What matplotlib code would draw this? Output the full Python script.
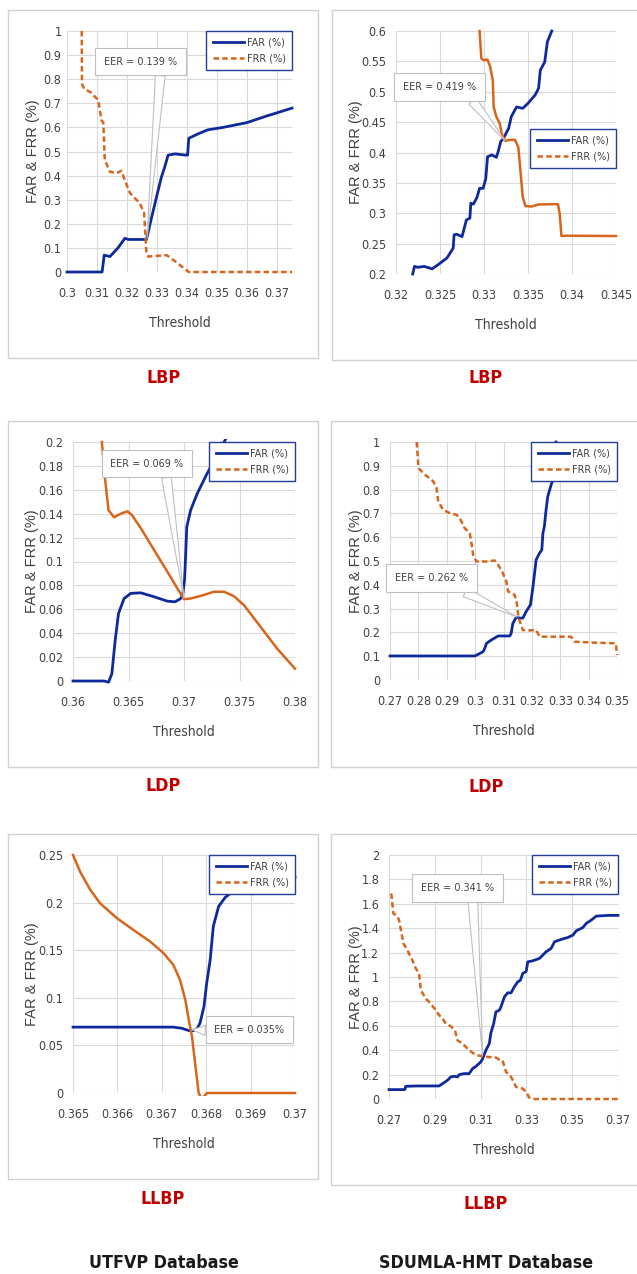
import numpy as np
import matplotlib
matplotlib.use('Agg')
import matplotlib.pyplot as plt
from matplotlib.lines import Line2D
from matplotlib.patches import Rectangle
from matplotlib.transforms import Bbox, TransformedBbox
from matplotlib import font_manager

# ---- data ----
# UTFVP - LBP
utfvp_lbp_far_x = [0.300, 0.3117, 0.3124, 0.3143, 0.317, 0.3193, 0.3205, 0.3265, 0.328, 0.3304, 0.3315,
                   0.3326, 0.3337, 0.336, 0.3396, 0.3402, 0.3406, 0.344, 0.347, 0.352, 0.360, 0.366, 0.375]
utfvp_lbp_far_y = [0, 0, 0.07, 0.064, 0.10, 0.14, 0.135, 0.135, 0.216, 0.34, 0.395,
                   0.437, 0.485, 0.49, 0.485, 0.485, 0.555, 0.575, 0.59, 0.60, 0.62, 0.645, 0.68]
utfvp_lbp_frr_x = [0.3049, 0.305, 0.3057, 0.3076, 0.3104, 0.3115, 0.3121, 0.3126, 0.3143, 0.3165, 0.3181,
                   0.3193, 0.321, 0.3243, 0.3257, 0.3265, 0.3271, 0.3332, 0.3365, 0.3399, 0.3405, 0.375]
utfvp_lbp_frr_y = [1.0, 0.78, 0.76, 0.748, 0.714, 0.63, 0.62, 0.465, 0.416, 0.41, 0.42,
                   0.38, 0.327, 0.285, 0.244, 0.077, 0.064, 0.07, 0.04, 0.007, 0.0, 0.0]

# SDUMLA - LBP
sdumla_lbp_far_x = [0.3219, 0.3221, 0.3225, 0.3232, 0.3241, 0.3248, 0.3258, 0.3265, 0.3266, 0.3269, 0.3275,
                    0.3278, 0.328, 0.3284, 0.3285, 0.3288, 0.3292, 0.3295, 0.3299, 0.3302, 0.3304, 0.3309,
                    0.3314, 0.3316, 0.3319, 0.3322, 0.3328, 0.3331, 0.3337, 0.3344, 0.335, 0.3358, 0.3362,
                    0.3364, 0.3369, 0.3372, 0.3377]
sdumla_lbp_far_y = [0.2, 0.2125, 0.211, 0.2125, 0.2085, 0.2155, 0.2265, 0.2425, 0.2645, 0.2655, 0.2615,
                    0.278, 0.289, 0.292, 0.3165, 0.315, 0.326, 0.341, 0.341, 0.357, 0.393, 0.396,
                    0.392, 0.401, 0.418, 0.423, 0.4397, 0.459, 0.475, 0.4727, 0.481, 0.4945, 0.5055,
                    0.5355, 0.549, 0.582, 0.6]
sdumla_lbp_frr_x = [0.3295, 0.3297, 0.33, 0.3304, 0.3307, 0.331, 0.3311, 0.3314, 0.3318, 0.332, 0.3324,
                    0.3328, 0.3335, 0.3339, 0.3341, 0.3344, 0.3347, 0.3354, 0.3362, 0.3384, 0.3386, 0.3388,
                    0.3394, 0.345]
sdumla_lbp_frr_y = [0.6, 0.5545, 0.552, 0.553, 0.541, 0.519, 0.475, 0.459, 0.4475, 0.4315, 0.419,
                    0.4205, 0.421, 0.409, 0.3765, 0.327, 0.312, 0.311, 0.3145, 0.315, 0.2995, 0.2625,
                    0.263, 0.2625]

# UTFVP - LDP
utfvp_ldp_far_x = [0.36, 0.3628, 0.3632, 0.3635, 0.3638, 0.3641, 0.3646, 0.3652, 0.3661, 0.3673, 0.3685,
                   0.3692, 0.3697, 0.3699, 0.37005, 0.37013, 0.37025, 0.3706, 0.3712, 0.3721, 0.3727, 0.3739]
utfvp_ldp_far_y = [0, 0, -0.001, 0.006, 0.034, 0.0565, 0.069, 0.0733, 0.0738, 0.0705, 0.0668,
                   0.0663, 0.069, 0.0733, 0.0845, 0.101, 0.129, 0.143, 0.157, 0.174, 0.184, 0.205]
utfvp_ldp_frr_x = [0.3626, 0.3629, 0.3632, 0.3637, 0.3643, 0.3649, 0.3653, 0.3661, 0.3673, 0.3685, 0.3694,
                   0.37, 0.3706, 0.3715, 0.3727, 0.3736, 0.3745, 0.3754, 0.3769, 0.3784, 0.38]
utfvp_ldp_frr_y = [0.2, 0.168, 0.143, 0.137, 0.14, 0.142, 0.139, 0.128, 0.1097, 0.0915, 0.0775,
                   0.0685, 0.069, 0.0712, 0.0747, 0.0747, 0.071, 0.0635, 0.0453, 0.027, 0.0103]

# SDUMLA - LDP
sdumla_ldp_far_x = [0.27, 0.2999, 0.3011, 0.3028, 0.3034, 0.304, 0.3057, 0.3081, 0.3122, 0.3127, 0.3133,
                    0.3145, 0.3157, 0.3168, 0.318, 0.3195, 0.3204, 0.3215, 0.3227, 0.3235, 0.3239, 0.3244,
                    0.325, 0.3256, 0.3268, 0.3274, 0.3285]
sdumla_ldp_far_y = [0.101, 0.101, 0.108, 0.119, 0.133, 0.154, 0.168, 0.185, 0.185, 0.196, 0.238,
                    0.264, 0.26, 0.26, 0.288, 0.316, 0.393, 0.505, 0.533, 0.547, 0.617, 0.645,
                    0.715, 0.771, 0.82, 0.841, 1.0]
sdumla_ldp_frr_x = [0.2794, 0.28, 0.2805, 0.2823, 0.2852, 0.2864, 0.287, 0.2887, 0.2911, 0.2934, 0.2946,
                    0.2963, 0.2981, 0.2989, 0.2993, 0.3004, 0.304, 0.3069, 0.3081, 0.3095, 0.311, 0.3116,
                    0.3127, 0.3139, 0.3147, 0.3151, 0.3156, 0.3168, 0.3186, 0.3215, 0.3227, 0.3338, 0.335,
                    0.342, 0.3496, 0.35]
sdumla_ldp_frr_y = [1.0, 0.898, 0.884, 0.863, 0.835, 0.807, 0.751, 0.715, 0.701, 0.694, 0.68,
                    0.638, 0.617, 0.561, 0.526, 0.498, 0.498, 0.502, 0.484, 0.456, 0.414, 0.372,
                    0.365, 0.358, 0.323, 0.281, 0.252, 0.21, 0.208, 0.21, 0.182, 0.182, 0.161,
                    0.157, 0.154, 0.105]

# UTFVP - LLBP
utfvp_llbp_far_x = [0.365, 0.36726, 0.36745, 0.3676, 0.36771, 0.3678, 0.36786, 0.36795, 0.36801, 0.36809,
                    0.36816, 0.36828, 0.36843, 0.36861, 0.3693, 0.3700]
utfvp_llbp_far_y = [0.0692, 0.0692, 0.068, 0.0657, 0.0654, 0.068, 0.0734, 0.0909, 0.115, 0.14,
                    0.175, 0.196, 0.2056, 0.212, 0.218, 0.227]
utfvp_llbp_frr_x = [0.365, 0.36516, 0.36539, 0.36561, 0.36599, 0.36636, 0.36674, 0.36704, 0.36726, 0.36741,
                    0.36753, 0.36762, 0.36768, 0.36775, 0.36783, 0.3679, 0.36802, 0.37]
utfvp_llbp_frr_y = [0.25, 0.2325, 0.2133, 0.1993, 0.1836, 0.1713, 0.159, 0.1469, 0.1346, 0.1189,
                    0.0979, 0.0734, 0.0594, 0.0315, 0.0, -0.006, 0.0, 0.0]

# SDUMLA - LLBP
sdumla_llbp_far_x = [0.27, 0.2769, 0.2773, 0.2824, 0.2919, 0.2934, 0.2955, 0.297, 0.2985, 0.2999, 0.3007,
                     0.3028, 0.305, 0.3065, 0.308, 0.3101, 0.3109, 0.3123, 0.3138, 0.3145, 0.3157, 0.3167,
                     0.3182, 0.3189, 0.3204, 0.3218, 0.3233, 0.3247, 0.3262, 0.3274, 0.3284, 0.3299, 0.3306,
                     0.3328, 0.3357, 0.3386, 0.3408, 0.3423, 0.3452, 0.3481, 0.3503, 0.3518, 0.3547, 0.3561,
                     0.3583, 0.3605, 0.3656, 0.37]
sdumla_llbp_far_y = [0.077, 0.077, 0.104, 0.107, 0.107, 0.126, 0.153, 0.181, 0.186, 0.181, 0.2,
                     0.208, 0.208, 0.249, 0.268, 0.304, 0.331, 0.399, 0.454, 0.542, 0.618, 0.714,
                     0.728, 0.755, 0.837, 0.87, 0.87, 0.919, 0.96, 0.974, 1.029, 1.045, 1.124,
                     1.133, 1.152, 1.207, 1.234, 1.289, 1.308, 1.324, 1.343, 1.379, 1.406, 1.439,
                     1.466, 1.499, 1.505, 1.505]
sdumla_llbp_frr_x = [0.271, 0.2719, 0.2736, 0.2744, 0.2763, 0.278, 0.2802, 0.2817, 0.2831, 0.2839, 0.2861,
                     0.2882, 0.2904, 0.2919, 0.2934, 0.2948, 0.297, 0.2988, 0.2999, 0.3021, 0.3043, 0.3065,
                     0.3087, 0.3109, 0.3131, 0.3167, 0.3182, 0.3196, 0.3211, 0.3233, 0.3255, 0.3284, 0.3299,
                     0.3313, 0.3328, 0.37]
sdumla_llbp_frr_y = [1.685, 1.521, 1.499, 1.466, 1.275, 1.22, 1.138, 1.07, 1.029, 0.892, 0.823,
                     0.782, 0.728, 0.687, 0.659, 0.618, 0.596, 0.564, 0.481, 0.454, 0.413, 0.378,
                     0.358, 0.35, 0.345, 0.339, 0.323, 0.317, 0.222, 0.181, 0.099, 0.085, 0.057,
                     0.011, 0.0, 0.0]

eer_labels = ['EER = 0.139 %', 'EER = 0.419 %', 'EER = 0.069 %', 'EER = 0.262 %', 'EER = 0.035%', 'EER = 0.341 %']
method_labels = ['LBP', 'LBP', 'LDP', 'LDP', 'LLBP', 'LLBP']
database_labels = ['UTFVP Database', 'SDUMLA-HMT Database']

# ---- style ----
fl = font_manager.fontManager.ttflist
names = {f.name for f in fl}
if 'Liberation Sans Narrow' in names:
    NARROW = dict(family='Liberation Sans Narrow')
    NSCALE = 1.0
elif any(f.name == 'DejaVu Sans' and f.stretch == 'condensed' for f in fl):
    NARROW = dict(family='DejaVu Sans', stretch='condensed')
    NSCALE = 0.95
else:
    NARROW = dict(family='Liberation Sans')
    NSCALE = 0.9

FAR_C = '#0E2A9A'
FRR_C = '#D8651C'
GRID_C = '#D9D9D9'
TXT_C = '#404040'

W, H = 637, 1274
fig = plt.figure(figsize=(W / 100, H / 100), dpi=100)
fig.patch.set_facecolor('white')


def px_rect(l, t, r, b):
    return [l / W, 1 - b / H, (r - l) / W, (b - t) / H]


def fmt(v):
    return f"{v:.4f}".rstrip('0').rstrip('.')


def ticks(lo, hi, step):
    n = int(round((hi - lo) / step + 1e-6))
    vals = [round(lo + i * step, 5) for i in range(n + 1)]
    return [v for v in vals if v <= hi + 1e-9]


def panel(axpx, boxpx, far_x, far_y, frr_x, frr_y, frr_dashed, xlim, xstep, ylim, ystep,
          eer_xy, eer_box, eer_text, relpos, leg_anchor, method, method_xy, ylab_x, ytick_pad):
    # outer frame around each chart
    l, t, r, b = boxpx
    fig.patches.append(Rectangle((l / W, 1 - b / H), (r - l) / W, (b - t) / H, transform=fig.transFigure,
                                 fill=False, ec='#D0D0D0', lw=1.0))
    ax = fig.add_axes(px_rect(*axpx))
    hpx = axpx[3] - axpx[1]
    xt = ticks(xlim[0], xlim[1], xstep)
    yt = ticks(ylim[0], ylim[1], ystep)
    ax.set_xticks(xt)
    ax.set_yticks(yt)
    ax.set_xticklabels([fmt(v) for v in xt])
    ax.set_yticklabels([fmt(v) for v in yt])
    ax.set_xlim(*xlim)
    ax.set_ylim(*ylim)
    ax.tick_params(length=0, labelsize=9.5 * NSCALE, labelcolor=TXT_C)
    ax.tick_params(axis='x', pad=11)
    ax.tick_params(axis='y', pad=ytick_pad)
    for lab in ax.get_xticklabels() + ax.get_yticklabels():
        lab.set(**NARROW)
    for s in ax.spines.values():
        s.set_visible(False)
    ax.grid(True, color=GRID_C, lw=0.8)
    ax.set_axisbelow(True)

    clip = TransformedBbox(Bbox.from_extents(-0.01, -2.5 / hpx, 1.01, 1 + 2.5 / hpx), ax.transAxes)
    l1, = ax.plot(far_x, far_y, color=FAR_C, lw=2.0, solid_joinstyle='round')
    ls = (0, (2.2, 1.3)) if frr_dashed else '-'
    l2, = ax.plot(frr_x, frr_y, color=FRR_C, lw=1.8, linestyle=ls, solid_joinstyle='round')
    for ln in (l1, l2):
        ln.set_clip_box(clip)

    ax.set_xlabel('Threshold', fontsize=10.5 * NSCALE, color=TXT_C, va='center', **NARROW)
    ax.xaxis.set_label_coords(0.5, -51 / hpx)
    ax.set_ylabel('FAR & FRR (%)', family='Liberation Sans', fontsize=10.5, color=TXT_C, va='center')
    ax.yaxis.set_label_coords(-ylab_x / (axpx[2] - axpx[0]), 0.5)

    handles = [Line2D([], [], color=FAR_C, lw=2.0),
               Line2D([], [], color=FRR_C, lw=1.8, linestyle=(0, (2.2, 1.3)))]
    prop = dict(size=8.2 * NSCALE, **NARROW)
    leg = ax.legend(handles, ['FAR (%)', 'FRR (%)'], loc='upper right', bbox_to_anchor=leg_anchor,
                    borderaxespad=0, fancybox=False, framealpha=1, handlelength=2.9, handletextpad=0.2,
                    borderpad=0.6, labelspacing=0.6, prop=prop)
    leg.get_frame().set_edgecolor('#233C94')
    leg.get_frame().set_linewidth(1.0)
    for tx in leg.get_texts():
        tx.set_color(TXT_C)

    ax.annotate(eer_text, xy=eer_xy, xytext=eer_box, textcoords='data', ha='center', va='center',
                fontsize=8.2 * NSCALE, color=TXT_C, zorder=6, **NARROW,
                bbox=dict(boxstyle='square,pad=0.8', fc='white', ec='#BFBFBF', lw=0.8),
                arrowprops=dict(arrowstyle='wedge,tail_width=0.9,shrink_factor=0.5', fc='white',
                                ec='#BFBFBF', lw=0.8, relpos=relpos, shrinkA=0, shrinkB=0))

    fig.text(method_xy[0] / W, 1 - method_xy[1] / H, method, ha='center', va='center',
             fontsize=13.5 * NSCALE, fontweight='bold', color='#C00000', **NARROW)
    return ax


panel((67, 31, 292, 272), (8, 10, 318, 358), utfvp_lbp_far_x, utfvp_lbp_far_y,
      utfvp_lbp_frr_x, utfvp_lbp_frr_y, True, (0.3, 0.375), 0.01, (0, 1), 0.1,
      (0.3267, 0.139), (0.3245, 0.873), eer_labels[0], (0.78, 0), (1.0, 1.0),
      method_labels[0], (164, 378), 34, 4)

panel((396, 31, 616, 274), (332, 10, 640, 360), sdumla_lbp_far_x, sdumla_lbp_far_y,
      sdumla_lbp_frr_x, sdumla_lbp_frr_y, False, (0.32, 0.345), 0.005, (0.2, 0.6), 0.05,
      (0.3324, 0.419), (0.32495, 0.508), eer_labels[1], (0.85, 0), (1.0, 0.597),
      method_labels[1], (486, 378), 40, 7)

panel((73, 442, 295, 681), (8, 421, 318, 767), utfvp_ldp_far_x, utfvp_ldp_far_y,
      utfvp_ldp_frr_x, utfvp_ldp_frr_y, False, (0.36, 0.38), 0.005, (0, 0.2), 0.02,
      (0.37, 0.069), (0.36665, 0.182), eer_labels[2], (0.75, 0), (1.0, 1.0),
      method_labels[2], (163, 786), 41, 7)

panel((390, 442, 617, 680), (331, 421, 640, 767), sdumla_ldp_far_x, sdumla_ldp_far_y,
      sdumla_ldp_frr_x, sdumla_ldp_frr_y, True, (0.27, 0.35), 0.01, (0, 1), 0.1,
      (0.3149, 0.264), (0.2847, 0.428), eer_labels[3], (0.7, 0), (1.0, 1.0),
      method_labels[3], (486, 787), 34, 7)

panel((73, 855, 295, 1093), (8, 834, 318, 1179), utfvp_llbp_far_x, utfvp_llbp_far_y,
      utfvp_llbp_frr_x, utfvp_llbp_frr_y, False, (0.365, 0.37), 0.001, (0, 0.25), 0.05,
      (0.36768, 0.0664), (0.36897, 0.0664), eer_labels[4], (0, 0.4), (1.0, 1.0),
      method_labels[4], (163, 1199), 41, 7)

panel((389, 855, 618, 1099), (331, 834, 640, 1185), sdumla_llbp_far_x, sdumla_llbp_far_y,
      sdumla_llbp_frr_x, sdumla_llbp_frr_y, True, (0.27, 0.37), 0.02, (0, 2), 0.2,
      (0.3109, 0.355), (0.3, 1.729), eer_labels[5], (0.7, 0), (1.0, 1.0),
      method_labels[5], (486, 1204), 33, 7)

fig.text(164 / W, 1 - 1263 / H, database_labels[0], ha='center', va='center',
         fontsize=13.5 * NSCALE, fontweight='bold', color='#1A1A1A', **NARROW)
fig.text(486 / W, 1 - 1263 / H, database_labels[1], ha='center', va='center',
         fontsize=13.5 * NSCALE, fontweight='bold', color='#1A1A1A', **NARROW)

fig.savefig('out.png', dpi=100, facecolor='white')
